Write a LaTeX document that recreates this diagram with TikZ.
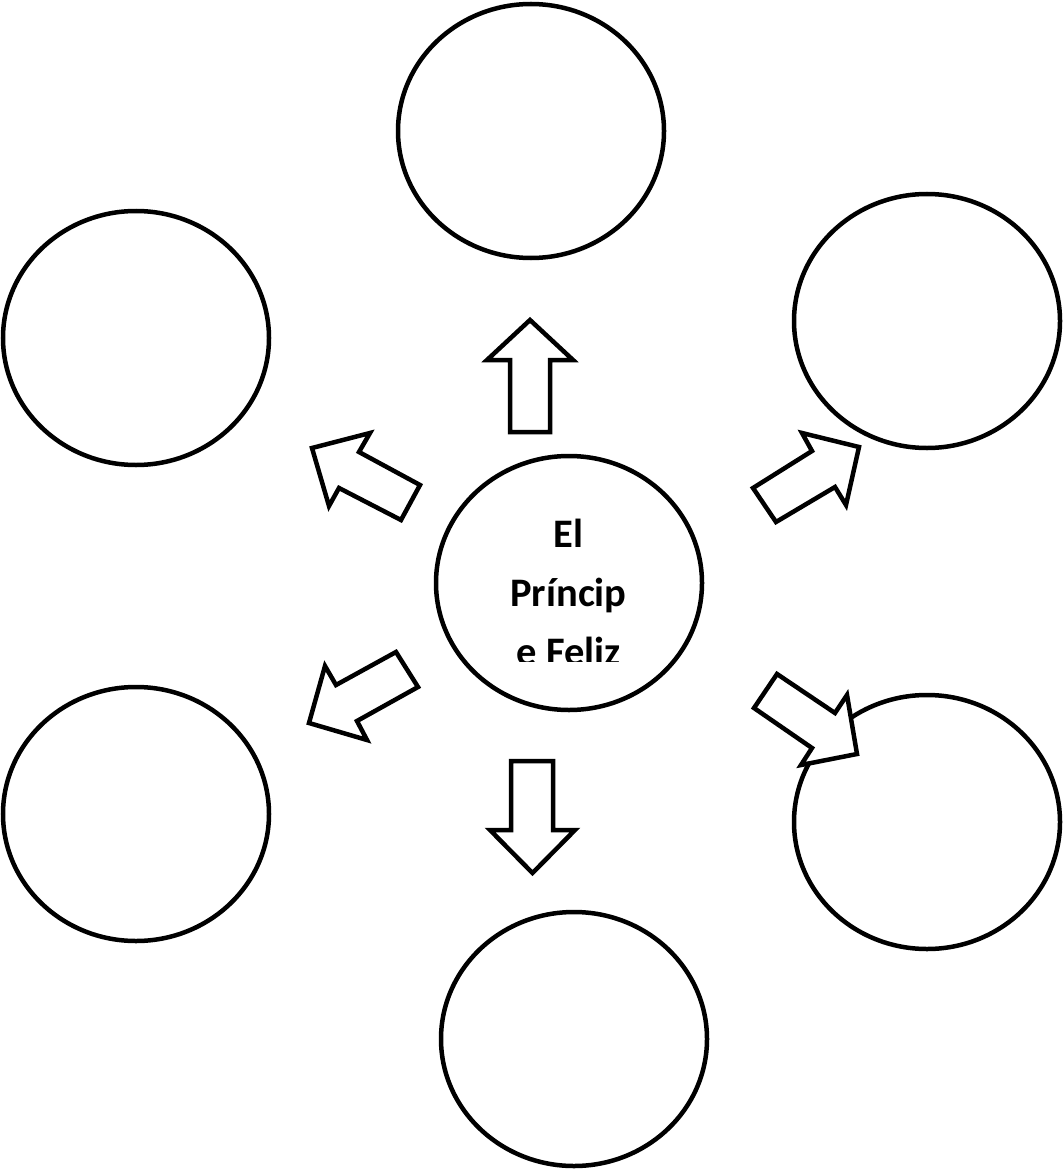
\documentclass[tikz,border=0pt]{standalone}
\usepackage{fontspec}
\setmainfont{Carlito}
\usetikzlibrary{shapes.geometric}
\begin{document}
\begin{tikzpicture}[x=1pt,y=-1pt,
  bubble/.style={draw=black, line width=4.5pt, ellipse, minimum width=266pt, minimum height=254pt, inner sep=0pt},
  blockarrow/.style={draw=black, fill=white, line width=4.5pt, line join=miter},
  label/.style={anchor=base, inner sep=0pt, font=\fontsize{40.5}{48}\selectfont\bfseries}]
\useasboundingbox (0,0) rectangle (1064,1169);
% ellipses
\node[bubble] (top) at (531,131) {};
\node[bubble] (tl) at (136,338) {};
\node[bubble] (tr) at (927,321) {};
\node[bubble] (center) at (569,583) {};
\node[bubble] (bl) at (136,814) {};
\node[bubble] (br) at (927,822) {};
\node[bubble] (bot) at (574,1039) {};
% centre text, clipped at the bottom
\begin{scope}
\clip (420,470) rectangle (720,661);
\node[label] (t1) at (568.5,547) {El};
\node[label] (t2) at (568.5,606) {Príncip};
\node[label] (t3) at (568.5,665) {e Feliz};
\end{scope}
% block arrows
\draw[blockarrow] (530,320) -- (573,360) -- (550,360) -- (550,432) -- (510,432) -- (510,360) -- (487,360) -- cycle;
\draw[blockarrow] (511,761) -- (553,761) -- (553,830) -- (575,830) -- (532.5,873) -- (490,830) -- (511,830) -- cycle;
\draw[blockarrow] (312,448) -- (370,433) -- (359,452) -- (420,485) -- (401,520) -- (339,488) -- (329,506) -- cycle;
\draw[blockarrow] (396,652) -- (418,687) -- (357,721) -- (367,740) -- (309,723) -- (325,666) -- (336,685) -- cycle;
\draw[blockarrow] (753,488) -- (776,522) -- (835,487) -- (846,505) -- (859,447) -- (802,433) -- (812,451) -- cycle;
\draw[blockarrow] (777,674) -- (754,708) -- (812,748) -- (801,765) -- (857,754) -- (847,695) -- (835,713) -- cycle;
\end{tikzpicture}
\end{document}
